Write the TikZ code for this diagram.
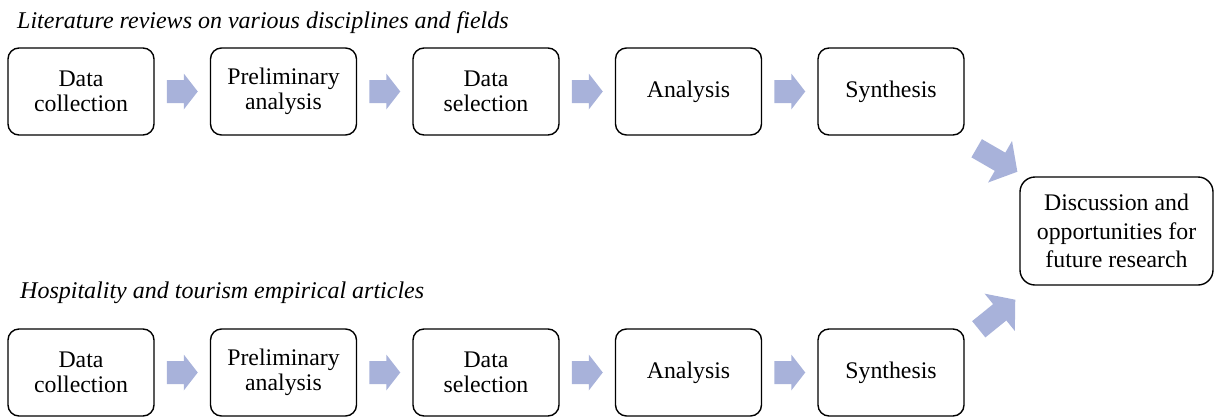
\documentclass[tikz,border=0pt]{standalone}
\usepackage{fontspec}
\setmainfont{Liberation Serif}
\usetikzlibrary{calc}
\definecolor{arrowfill}{RGB}{168,178,218}
\tikzset{
  stepbox/.style={draw, line width=1.4pt, rounded corners=11pt, minimum width=146pt, minimum height=87pt, align=center, font=\fontsize{23.8}{25}\selectfont, inner sep=0pt},
  discbox/.style={stepbox, minimum width=193pt, minimum height=108pt, rounded corners=15pt, font=\fontsize{23.8}{28.5}\selectfont},
  titletext/.style={anchor=base west, inner sep=0pt, font=\fontsize{24}{25}\selectfont\itshape},
  smallarrow/.pic={\fill[arrowfill] (-15.5,-11.5) -- (1.5,-11.5) -- (1.5,-18) -- (15.5,0) -- (1.5,18) -- (1.5,11.5) -- (-15.5,11.5) -- cycle;},
  bigarrow/.pic={\fill[arrowfill] (-23.5,-10.5) -- (3.5,-10.5) -- (3.5,-24) -- (23.5,0) -- (3.5,24) -- (3.5,10.5) -- (-23.5,10.5) -- cycle;}
}
\begin{document}
\begin{tikzpicture}[x=1pt,y=-1pt]
\useasboundingbox (0,0) rectangle (1214,418);
\node[titletext] (t1) at (17,28) {Literature reviews on various disciplines and fields};
\node[titletext] (t2) at (20,298) {Hospitality and tourism empirical articles};
% top row
\node[stepbox] (a1) at (81,91.5) {Data\\collection};
\node[stepbox] (a2) at (283.5,91.5) {Preliminary\\analysis};
\node[stepbox] (a3) at (486,91.5) {Data\\selection};
\node[stepbox] (a4) at (688.5,91.5) {Analysis};
\node[stepbox] (a5) at (891,91.5) {Synthesis};
% bottom row
\node[stepbox] (b1) at (81,372.5) {Data\\collection};
\node[stepbox] (b2) at (283.5,372.5) {Preliminary\\analysis};
\node[stepbox] (b3) at (486,372.5) {Data\\selection};
\node[stepbox] (b4) at (688.5,372.5) {Analysis};
\node[stepbox] (b5) at (891,372.5) {Synthesis};
% final
\node[discbox] (d) at (1116.5,231) {Discussion and\\opportunities for\\future research};
% arrows
\foreach \i/\j in {1/2,2/3,3/4,4/5}{
  \pic at ($(a\i.east)!0.5!(a\j.west)$) {smallarrow};
  \pic at ($(b\i.east)!0.5!(b\j.west)$) {smallarrow};
}
\pic[rotate=-30] at (997,160) {bigarrow};
\pic[rotate=39] at (997,314.5) {bigarrow};
\end{tikzpicture}
\end{document}
